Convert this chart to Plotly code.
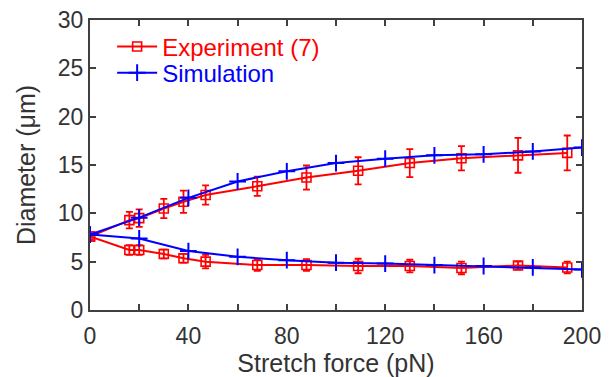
import plotly.graph_objects as go

# Experiment (7): forces and diameters (upper & lower branches)
exp_force = [0, 16, 20, 30, 38, 47, 68, 88, 109, 130, 151, 174, 194]
exp_upper = [7.6, 9.3, 9.5, 10.5, 11.2, 11.9, 12.8, 13.7, 14.4, 15.2, 15.7, 16.0, 16.25]
exp_upper_err = [0.3, 0.85, 0.9, 1.0, 1.15, 1.0, 1.0, 1.25, 1.4, 1.45, 1.25, 1.8, 1.8]
exp_lower = [7.6, 6.2, 6.2, 5.8, 5.35, 5.0, 4.65, 4.65, 4.55, 4.55, 4.35, 4.6, 4.4]
exp_lower_err = [0.3, 0.5, 0.5, 0.45, 0.45, 0.7, 0.6, 0.6, 0.75, 0.65, 0.65, 0.4, 0.6]

# Simulation
sim_force = [0, 20, 40, 60, 80, 100, 120, 140, 160, 180, 200]
sim_upper = [7.8, 9.55, 11.6, 13.3, 14.35, 15.2, 15.65, 16.0, 16.1, 16.4, 16.8]
sim_lower = [7.8, 7.4, 6.1, 5.5, 5.15, 4.9, 4.8, 4.65, 4.55, 4.4, 4.2]

RED = "#ff0000"
BLUE = "#0000ff"
AX = "#404040"
FS = 23
FT = 25
FL = 24

fig = go.Figure()

def exp_trace(y, err, show):
    return go.Scatter(
        x=exp_force, y=y, mode="lines+markers",
        name="Experiment (7)", legend="legend",
        showlegend=show,
        line=dict(color=RED, width=2),
        marker=dict(symbol="square-open", size=9, color=RED, line=dict(width=1.6, color=RED)),
        error_y=dict(type="data", array=err, visible=True, color=RED, thickness=1.8, width=3.5),
    )

def sim_trace(y, show):
    return go.Scatter(
        x=sim_force, y=y, mode="lines+markers",
        name="Simulation", legend="legend2",
        showlegend=show,
        line=dict(color=BLUE, width=2),
        marker=dict(symbol="cross-thin-open", size=12, color=BLUE, line=dict(width=2, color=BLUE)),
    )

fig.add_trace(exp_trace(exp_upper, exp_upper_err, True))
fig.add_trace(exp_trace(exp_lower, exp_lower_err, False))
fig.add_trace(sim_trace(sim_upper, True))
fig.add_trace(sim_trace(sim_lower, False))

axis_common = dict(
    showline=True, linecolor=AX, linewidth=2, mirror="ticks",
    ticks="inside", ticklen=6, tickwidth=1.5, tickcolor=AX,
    showgrid=False, zeroline=False, automargin=False,
    ticklabeloverflow="allow",
    tickfont=dict(size=FS, color="#333333"),
)

leg_common = dict(x=0.045, xanchor="left", yanchor="middle",
                  bgcolor="rgba(0,0,0,0)", itemwidth=40, itemsizing="trace")

# page body has an 8px margin, so the figure is sized/margined to compensate
fig.update_layout(
    width=608, height=369,
    margin=dict(l=82, r=34, t=12, b=67),
    paper_bgcolor="white", plot_bgcolor="white",
    font=dict(family="Liberation Sans, Arial, sans-serif", size=FS, color="#333333"),
    xaxis=dict(range=[0, 200], tickvals=[0, 40, 80, 120, 160, 200],
               minor=dict(dtick=20, tick0=0, ticks="inside", ticklen=6, tickcolor=AX, tickwidth=1.5),
               title=dict(text="Stretch force (pN)", font=dict(size=FT), standoff=0),
               ticklabelstandoff=4,
               **axis_common),
    yaxis=dict(range=[0, 30], dtick=5,
               title=dict(text="Diameter (μm)", font=dict(size=FT), standoff=15),
               **axis_common),
    legend=dict(y=0.907, font=dict(size=FL, color=RED), **leg_common),
    legend2=dict(y=0.817, font=dict(size=FL, color=BLUE), **leg_common),
)

fig.write_html("out.html")
